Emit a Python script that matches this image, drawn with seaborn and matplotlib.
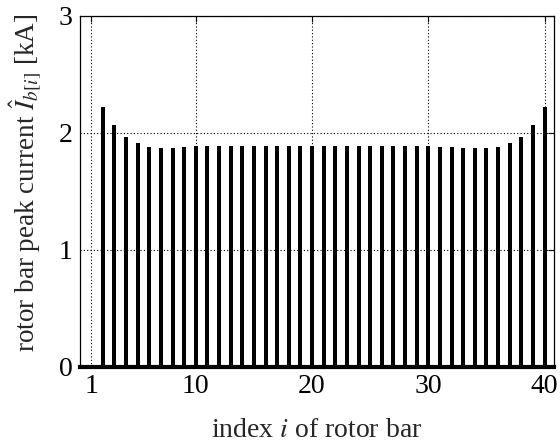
import numpy as np
import pandas as pd
import matplotlib
matplotlib.use("Agg")
import matplotlib.pyplot as plt
import seaborn as sns

bar_index = list(range(2, 41))
peak_current = [2.222, 2.068, 1.966, 1.910, 1.880, 1.874, 1.874, 1.877, 1.883,
                1.885, 1.885, 1.885, 1.886, 1.886, 1.886, 1.886, 1.887, 1.887,
                1.887, 1.887, 1.887, 1.886, 1.886, 1.886, 1.886, 1.885, 1.885,
                1.885, 1.883, 1.880, 1.877, 1.874, 1.874, 1.874, 1.880, 1.910,
                1.966, 2.068, 2.222]
x_ticks = [1, 10, 20, 30, 40]
y_ticks = [0, 1, 2, 3]

sns.set_style("white")
plt.rcParams['font.family'] = ['Liberation Serif', 'DejaVu Serif']
plt.rcParams['mathtext.fontset'] = 'stix'

df = pd.DataFrame({"i": bar_index, "I": peak_current})

fig = plt.figure(figsize=(5.6, 4.48), dpi=100)
ax = fig.add_axes([0.142, 0.181, 0.847, 0.784])
sns.barplot(data=df, x="i", y="I", native_scale=True, color="black",
            width=0.34, linewidth=0, saturation=1, ax=ax, errorbar=None)

ax.set_xlim(0, 40.8)
ax.set_ylim(0, 3)
ax.set_xticks(x_ticks)
ax.set_yticks(y_ticks)
ax.set_xticklabels([str(t) for t in x_ticks])
ax.set_yticklabels([str(t) for t in y_ticks])
ax.grid(True, linestyle=(0, (1, 2)), color="black", linewidth=0.8)
ax.set_axisbelow(True)
ax.tick_params(direction="in", length=4, width=0.8, top=True, right=True,
               labelsize=20, pad=5, colors="black")
for s in ax.spines.values():
    s.set_visible(True)
    s.set_color("black")
    s.set_linewidth(0.9)
ax.spines["bottom"].set_linewidth(3)

ax.set_xlabel("index $i$ of rotor bar", fontsize=20, labelpad=14)
ax.set_ylabel(r"rotor bar peak current $\hat{I}_{b[i]}$ [kA]", fontsize=19.5)
ax.yaxis.set_label_coords(-0.075, 0.525)

fig.savefig("out.png", dpi=100)
